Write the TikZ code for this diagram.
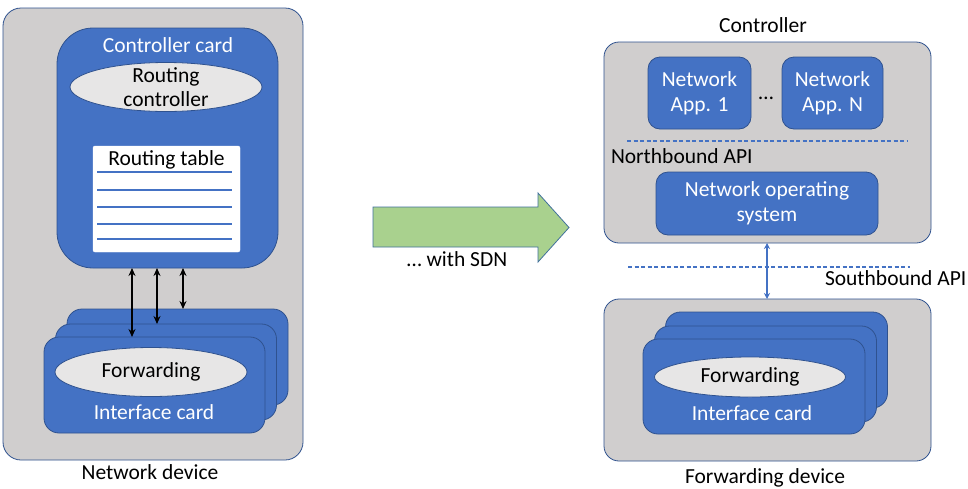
\documentclass[tikz,border=0pt]{standalone}
\usepackage{fontspec}
\setmainfont{Carlito}
\usetikzlibrary{arrows.meta,shapes.geometric}
\definecolor{boxgray}{HTML}{D0CECE}
\definecolor{edgeblue}{HTML}{4472C4}
\definecolor{cardblue}{HTML}{4472C4}
\definecolor{cardedge}{HTML}{2F528F}
\definecolor{ovalgray}{HTML}{E7E6E6}
\definecolor{arrowgreen}{HTML}{A9D18E}
\definecolor{arrowedge}{HTML}{41719C}
\tikzset{
  every node/.style={font=\fontsize{21.5}{25}\selectfont, inner sep=0pt, outer sep=0pt},
  device/.style={draw=cardedge, fill=boxgray, line width=0.8pt, rounded corners=18pt},
  card/.style={draw=cardedge, fill=cardblue, line width=0.8pt, rounded corners=15pt},
  ctrlcard/.style={draw=cardedge, fill=cardblue, line width=0.8pt, rounded corners=36pt},
  appbox/.style={draw=cardedge, fill=cardblue, line width=0.8pt, rounded corners=12pt, text=white, align=center},
  oval/.style={ellipse, draw=cardedge, fill=ovalgray, line width=0.8pt, align=center},
  whitetext/.style={text=white, align=center},
  plain/.style={text=black, align=center},
  apiline/.style={draw=edgeblue, line width=1.2pt, dash pattern=on 4pt off 2.5pt},
  link/.style={{Stealth[length=8pt,width=7pt]}-{Stealth[length=8pt,width=7pt]}, line width=2pt, black},
  bluelink/.style={{Stealth[length=6pt,width=6pt]}-{Stealth[length=6pt,width=6pt]}, line width=1.2pt, edgeblue},
  tableline/.style={draw=edgeblue, line width=1.3pt},
}
\begin{document}
\begin{tikzpicture}[x=1pt,y=-1pt]
\useasboundingbox[fill=white] (0,0) rectangle (968,488);

% ---------- Traditional network device ----------
\node[device, minimum width=300pt, minimum height=452pt] (nd) at (153,234) {};
\node[plain] (ndlabel) at (150,472) {Network device};

\node[ctrlcard, minimum width=221pt, minimum height=240pt] (cc) at (167.5,148) {};
\node[whitetext] (cctitle) at (168,45) {Controller card};
\node[oval, minimum width=192pt, minimum height=49pt] (rc) at (166,87) {};
\node[plain, font=\fontsize{21.5}{24}\selectfont] (rctext) at (166,87) {Routing\\controller};

\node[draw=white, fill=white, rounded corners=2pt, minimum width=147pt, minimum height=106pt] (rt) at (166.5,199) {};
\node[plain] (rttitle) at (166.5,160) {Routing table};
\foreach \yy in {172,190,207,224,239}
  \draw[tableline] (97,\yy) -- (232,\yy);

% stack of interface cards
\node[card, minimum width=221pt, minimum height=96pt] (icC) at (177.5,357) {};
\node[card, minimum width=221pt, minimum height=96pt] (icB) at (166,372) {};
\node[card, minimum width=221pt, minimum height=96pt] (icA) at (154.5,385) {};
\node[oval, minimum width=192pt, minimum height=49pt] (fw) at (151,372) {Forwarding};
\node[whitetext] (ictext) at (154,412) {Interface card};

% control links between controller card and interface cards
\draw[link] (132,0 |- cc.south) -- (132,0 |- icA.north);
\draw[link] (157,0 |- cc.south) -- (157,0 |- icB.north);
\draw[link] (183,0 |- cc.south) -- (183,0 |- icC.north);

% ---------- transition arrow ----------
\draw[fill=arrowgreen, draw=arrowedge, line width=0.8pt]
  (373,207) -- (538,207) -- (538,193) -- (569,227.5) -- (538,262) -- (538,247) -- (373,247) -- cycle;
\node[plain] (sdn) at (457,259) {\dots{} with SDN};

% ---------- SDN controller ----------
\node[plain] (ctrllabel) at (763,25) {Controller};
\node[device, rounded corners=15pt, minimum width=327pt, minimum height=201pt] (ctrl) at (767.5,142.5) {};
\node[appbox, minimum width=103pt, minimum height=72pt] (app1) at (699.5,93) {Network\\App. 1};
\node[appbox, minimum width=101pt, minimum height=72pt] (appn) at (832.5,93) {Network\\App. N};
\node[plain] (dots) at (766,98) {\dots};
\coordinate (nbL) at (627,141);
\coordinate (nbR) at (907,141);
\draw[apiline] (nbL) -- (nbR);
\node[plain, anchor=west] (nbapi) at (611,156) {Northbound API};
\node[appbox, minimum width=222pt, minimum height=63pt] (nos) at (767,203.5) {Network operating\\system};

% ---------- forwarding device ----------
\node[device, rounded corners=15pt, minimum width=327pt, minimum height=162pt] (fd) at (767.5,380) {};
\node[plain] (fdlabel) at (765,478) {Forwarding device};
\node[card, minimum width=222pt, minimum height=96pt] (ricC) at (776.5,360) {};
\node[card, minimum width=222pt, minimum height=96pt] (ricB) at (765.5,374) {};
\node[card, minimum width=222pt, minimum height=95pt] (ricA) at (754,386.5) {};
\node[oval, minimum width=191pt, minimum height=40pt] (rfw) at (750,377) {Forwarding};
\node[whitetext] (rictext) at (752,413) {Interface card};

% southbound interface
\coordinate (sbL) at (628,267);
\coordinate (sbR) at (910,267);
\draw[apiline] (sbL) -- (sbR);
\node[plain, anchor=west] (sbapi) at (825,278) {Southbound API};
\draw[bluelink] (767,0 |- ctrl.south) -- (767,0 |- fd.north);
\end{tikzpicture}
\end{document}
